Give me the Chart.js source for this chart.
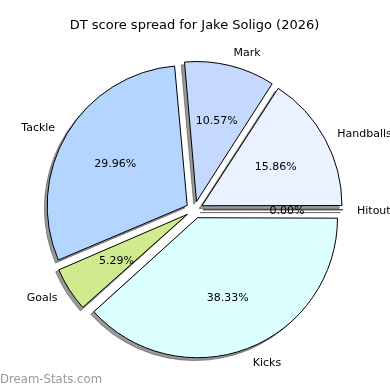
<!DOCTYPE html>
<html>
<head>
<meta charset="utf-8">
<script src="https://cdn.jsdelivr.net/npm/chart.js@4"></script>
<style>
  body { margin: 0; background: #fff; }
</style>
</head>
<body>
<canvas id="myChart" width="390" height="390"></canvas>
<script>
// slices in drawing order (clockwise from 3 o'clock)
var categories = ['Kicks', 'Goals', 'Tackle', 'Mark', 'Handballs', 'Hitout'];
var shares = [38.33, 5.29, 29.96, 10.57, 15.86, 0];
var sliceColors = ['#dbffff', '#d0eb8e', '#b3d5ff', '#c5d9ff', '#eaf1ff', '#e8e8e8'];

var shadowColor = 'rgba(60,60,60,0.52)';

// shadows, zero-width wedge, outside labels and percentages
var pieExtras = {
  id: 'pieExtras',
  beforeDatasetsDraw: function (chart) {
    var meta = chart.getDatasetMeta(0);
    var R = meta.controller.outerRadius;
    var ctx = chart.ctx;
    ctx.save();
    ctx.fillStyle = shadowColor;
    ctx.strokeStyle = shadowColor;
    ctx.lineWidth = 1;
    meta.data.forEach(function (arc) {
      var shift = arc.options.offset / 4;
      var circ = arc.circumference;
      // chart.js grows small exploded slices; keep every radius equal
      arc.outerRadius = R - shift * (1 - Math.sin(Math.min(Math.PI, circ)));
      var mid = (arc.startAngle + arc.endAngle) / 2;
      var cx = arc.x + Math.cos(mid) * shift - 2.8;
      var cy = arc.y + Math.sin(mid) * shift + 2.8;
      ctx.beginPath();
      ctx.moveTo(cx, cy);
      ctx.arc(cx, cy, R, arc.startAngle, arc.endAngle);
      ctx.closePath();
      if (circ > 0) ctx.fill();
      ctx.stroke();
    });
    ctx.restore();
  },
  afterDatasetsDraw: function (chart) {
    var meta = chart.getDatasetMeta(0);
    var R = meta.controller.outerRadius;
    var total = shares.reduce(function (a, b) { return a + b; }, 0);
    var ctx = chart.ctx;
    ctx.save();
    ctx.font = '11px "DejaVu Sans"';
    ctx.fillStyle = '#000';
    ctx.textBaseline = 'middle';
    meta.data.forEach(function (arc, i) {
      var shift = arc.options.offset / 4;
      var mid = (arc.startAngle + arc.endAngle) / 2;
      var cos = Math.cos(mid), sin = Math.sin(mid);
      var cx = arc.x + cos * shift, cy = arc.y + sin * shift;
      if (arc.circumference === 0) {
        ctx.strokeStyle = '#000';
        ctx.lineWidth = 1;
        ctx.beginPath();
        ctx.moveTo(cx, cy);
        ctx.lineTo(cx + cos * R, cy + sin * R);
        ctx.stroke();
      }
      ctx.textAlign = cos >= 0 ? 'left' : 'right';
      ctx.fillText(categories[i], cx + cos * R * 1.1, cy + sin * R * 1.1 + 1.5);
      ctx.textAlign = 'center';
      ctx.fillText((shares[i] / total * 100).toFixed(2) + '%', cx + cos * R * 0.6, cy + sin * R * 0.6 + 1.5);
    });
    ctx.restore();
  },
  afterDraw: function (chart) {
    var ctx = chart.ctx;
    ctx.save();
    ctx.font = '11.7px "DejaVu Sans"';
    ctx.fillStyle = '#999';
    ctx.textAlign = 'left';
    ctx.textBaseline = 'middle';
    ctx.fillText('Dream-Stats.com', 0, 380);
    ctx.restore();
  }
};

var ctx = document.getElementById('myChart').getContext('2d');
var myChart = new Chart(ctx, {
  type: 'pie',
  data: {
    labels: categories,
    datasets: [{
      data: shares,
      backgroundColor: sliceColors,
      borderColor: '#000',
      borderWidth: 1,
      offset: 34
    }]
  },
  options: {
    responsive: false,
    animation: false,
    events: [],
    rotation: 90,
    radius: 140,
    layout: { padding: { top: 0, bottom: 20, left: 20, right: 21 } },
    plugins: {
      legend: { display: false },
      tooltip: { enabled: false },
      title: {
        display: true,
        text: 'DT score spread for Jake Soligo (2026)',
        color: '#000',
        font: { family: 'DejaVu Sans', size: 13, weight: 'normal', lineHeight: 1.2 },
        padding: { top: 18, bottom: 16 }
      }
    }
  },
  plugins: [pieExtras]
});
</script>
</body>
</html>
